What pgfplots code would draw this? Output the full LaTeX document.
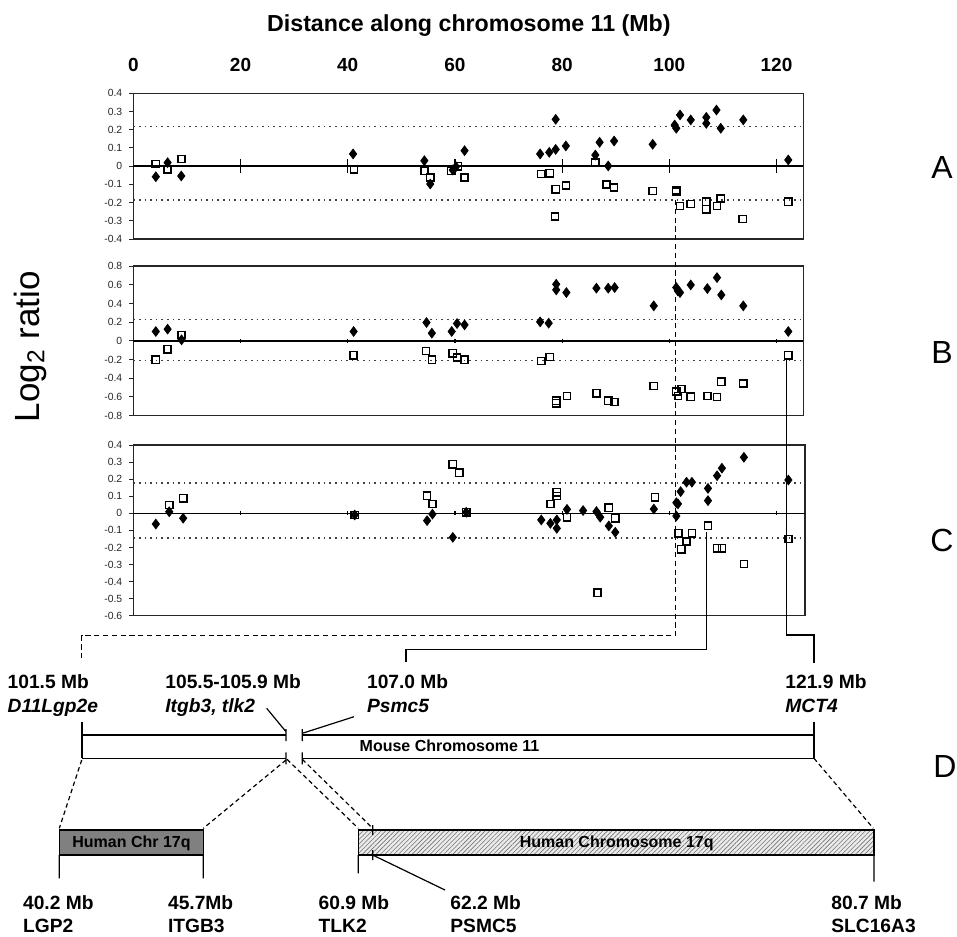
\documentclass[border=0pt]{standalone}
\usepackage{fontspec}
\setmainfont{Liberation Sans}
\usepackage{pgfplots}
\pgfplotsset{compat=1.18}
\usetikzlibrary{patterns.meta}

\pgfplotsset{
  panel/.style={
    scale only axis, width=335pt, xmin=0, xmax=125, anchor=north west,
    axis line style={black!85, line width=0.6pt},
    xtick=\empty, ytick pos=left, ytick align=outside,
    major tick length=2pt, tick style={black!85, line width=0.5pt},
    /pgf/number format/assume math mode=true,
    yticklabel style={font=\fontsize{5.2}{6}\selectfont, black!85,
      /pgf/number format/.cd, fixed, precision=1},
  },
  diam/.style={only marks, mark=diamond*, mark size=2.4pt, black},
  sq/.style={only marks, mark=square, mark size=1.8pt,
    mark options={draw=black, line width=0.75pt}},
  thr/.style={black!75, dotted, line width=0.8pt},
  zero/.style={black, line width=0.7pt},
  tk/.style={ycomb, black, line width=0.6pt, mark=none},
}
\newcommand\lab{\fontsize{9.6}{11}\selectfont\bfseries}
\newcommand\barlab{\fontsize{8}{9}\selectfont\bfseries}

\begin{document}
\begin{tikzpicture}
\useasboundingbox (0,0) rectangle (478.5pt,-468pt);

% ---------- panel A ----------
\begin{axis}[panel, at={(66.65pt,-46.65pt)}, height=72.85pt,
  ymin=-0.4, ymax=0.4, ytick={-0.4,-0.3,-0.2,-0.1,0,0.1,0.2,0.3,0.4},
  xtick={0,20,40,60,80,100,120}, xticklabel pos=upper,
  x tick style={draw=none},
  xticklabel style={font=\fontsize{9.5}{11}\selectfont\bfseries, black,
    anchor=base, yshift=11pt}]
  \addplot[thr] coordinates {(0,0.217) (125,0.217)};
  \addplot[thr] coordinates {(0,-0.186) (125,-0.186)};
  \addplot[zero] coordinates {(0,0) (125,0)};
  \addplot[tk] coordinates {(20,0.04) (40,0.04) (60,0.04) (80,0.04) (100,0.04) (120,0.04)};
  \addplot[tk] coordinates {(20,-0.04) (40,-0.04) (60,-0.04) (80,-0.04) (100,-0.04) (120,-0.04)};
  \addplot[diam] coordinates {
    (4.2,-0.058) (6.4,0.019) (8.95,-0.054) (41.0,0.067) (54.3,0.03)
    (55.4,-0.098) (59.6,-0.021) (60.2,-0.003) (61.8,0.085) (75.9,0.067)
    (77.6,0.076) (78.8,0.092) (78.8,0.257) (80.7,0.111) (86.2,0.061)
    (87.0,0.131) (88.6,0.001) (89.7,0.138) (96.9,0.12) (101.0,0.226)
    (101.3,0.208) (102.0,0.281) (104.0,0.254) (106.9,0.268) (106.9,0.235)
    (108.8,0.308) (109.6,0.208) (113.8,0.254) (122.2,0.034)};
  \addplot[sq] coordinates {
    (4.2,0.012) (6.4,-0.017) (9.0,0.039) (41.2,-0.017) (54.3,-0.027)
    (55.4,-0.063) (59.3,-0.025) (60.6,0.0) (61.8,-0.063) (76.1,-0.043)
    (77.7,-0.039) (78.8,-0.127) (80.7,-0.107) (78.7,-0.277) (86.2,0.019)
    (88.3,-0.1) (89.7,-0.118) (96.9,-0.136) (101.3,-0.131) (101.3,-0.14)
    (102.0,-0.219) (104.0,-0.208) (106.9,-0.195) (106.9,-0.237)
    (108.9,-0.219) (109.6,-0.177) (113.7,-0.29) (122.2,-0.195)};
\end{axis}

% ---------- panel B ----------
\begin{axis}[panel, at={(66.65pt,-133pt)}, height=74.85pt,
  ymin=-0.8, ymax=0.8, ytick={-0.8,-0.6,-0.4,-0.2,0,0.2,0.4,0.6,0.8}]
  \addplot[thr] coordinates {(0,0.23) (125,0.23)};
  \addplot[thr] coordinates {(0,-0.21) (125,-0.21)};
  \addplot[zero] coordinates {(0,0) (125,0)};
  \addplot[tk] coordinates {(20,0.02) (40,0.02) (60,0.02) (80,0.02) (100,0.02) (120,0.02)};
  \addplot[tk] coordinates {(20,-0.02) (40,-0.02) (60,-0.02) (80,-0.02) (100,-0.02) (120,-0.02)};
  \addplot[diam] coordinates {
    (4.2,0.1) (6.4,0.125) (9.0,0.011) (41.1,0.1) (54.7,0.196) (55.7,0.082)
    (59.4,0.1) (60.4,0.185) (61.8,0.171) (75.9,0.203) (77.5,0.189)
    (78.9,0.605) (78.9,0.545) (80.8,0.516) (86.4,0.563) (88.6,0.563)
    (89.8,0.57) (97.1,0.374) (101.3,0.57) (101.6,0.534) (102.0,0.516)
    (104.0,0.598) (107.1,0.559) (108.9,0.676) (109.7,0.491) (113.8,0.374)
    (122.2,0.1)};
  \addplot[sq] coordinates {
    (4.2,-0.203) (6.4,-0.089) (9.0,0.064) (41.1,-0.153) (54.6,-0.107)
    (55.7,-0.203) (59.6,-0.132) (60.4,-0.178) (61.8,-0.203) (76.1,-0.214)
    (77.7,-0.171) (78.9,-0.641) (78.9,-0.666) (80.9,-0.588) (86.4,-0.559)
    (88.6,-0.641) (89.8,-0.652) (97.1,-0.481) (101.3,-0.541) (101.6,-0.588)
    (102.3,-0.516) (104.0,-0.598) (107.1,-0.59) (108.9,-0.6) (109.7,-0.438)
    (113.8,-0.456) (122.2,-0.153)};
\end{axis}

% ---------- panel C ----------
\begin{axis}[panel, at={(66.65pt,-222.5pt)}, height=85.35pt, width=335.85pt,
  xmax=125.3,
  ymin=-0.6, ymax=0.4, ytick={-0.6,-0.5,-0.4,-0.3,-0.2,-0.1,0,0.1,0.2,0.3,0.4}]
  \addplot[thr] coordinates {(0,0.176) (125.3,0.176)};
  \addplot[thr] coordinates {(0,-0.146) (125.3,-0.146)};
  \addplot[zero] coordinates {(0,0) (125.3,0)};
  \addplot[tk] coordinates {(20,0.012) (40,0.012) (60,0.012) (80,0.012) (100,0.012) (120,0.012)};
  \addplot[tk] coordinates {(20,-0.012) (40,-0.012) (60,-0.012) (80,-0.012) (100,-0.012) (120,-0.012)};
  \addplot[diam] coordinates {
    (4.2,-0.063) (6.7,0.009) (9.3,-0.029) (41.3,-0.01) (54.8,-0.043)
    (55.8,-0.005) (59.6,-0.141) (62.1,0.006) (76.1,-0.039) (77.8,-0.059)
    (79.0,-0.039) (79.0,-0.088) (80.9,0.023) (83.9,0.016) (86.4,0.01)
    (87.1,-0.023) (88.7,-0.074) (89.9,-0.111) (97.1,0.025) (101.3,0.062)
    (101.6,0.055) (101.3,-0.016) (102.1,0.127) (103.2,0.182) (104.2,0.182)
    (107.2,0.146) (107.2,0.074) (108.9,0.22) (109.8,0.264) (113.9,0.328)
    (122.2,0.195)};
  \addplot[sq] coordinates {
    (6.7,0.049) (9.3,0.088) (41.3,-0.01) (54.8,0.103) (55.8,0.055)
    (59.6,0.287) (60.8,0.238) (62.1,0.006) (77.8,0.055) (79.0,0.123)
    (79.0,0.101) (80.9,-0.023) (86.6,-0.465) (88.7,0.033) (89.9,-0.029)
    (97.3,0.094) (101.7,-0.117) (104.2,-0.117) (103.2,-0.166) (102.2,-0.211)
    (107.2,-0.073) (108.9,-0.205) (109.8,-0.205) (113.9,-0.297) (122.2,-0.151)};
\end{axis}

% ---------- overlay: titles, connectors and panel D (pixel units) ----------
\begin{axis}[at={(0pt,0pt)}, anchor=north west, scale only axis,
  width=478.5pt, height=468pt, xmin=0, xmax=957, ymin=0, ymax=936,
  y dir=reverse, hide axis, clip=false]
  % connectors from the panels
  \addplot[black, line width=0.6pt, dash pattern=on 2.6pt off 1.8pt] coordinates {
    (675.7,200) (675.7,635.7) (81.7,635.7) (81.7,661.7)};
  \addplot[black, line width=0.6pt] coordinates {
    (706.3,532) (706.3,649.3) (406,649.3) (406,661.7)};
  \addplot[black, line width=0.6pt] coordinates {
    (786.5,360) (786.5,635) (814,635) (814,662.7)};
  % mouse chromosome
  \addplot[black, line width=0.8pt] table {
    x y
    81.7 735
    286 735

    302.3 735
    814 735

    81.7 758.3
    286 758.3

    302.3 758.3
    814 758.3

    81.7 721.7
    81.7 758.3

    814 721.7
    814 758.3
  };
  \addplot[black, line width=0.6pt] table {
    x y
    286 729
    286 741

    302.3 729
    302.3 741

    286 752.3
    286 764.3

    302.3 752.3
    302.3 764.3

    266.7 708.3
    286 731.7

    354 716.7
    302.3 733.3
  };
  \addplot[black, line width=0.6pt, dash pattern=on 2.2pt off 1.6pt] table {
    x y
    81.7 760
    59.3 828.3

    286 760
    203.3 828.3

    287 759.3
    358.3 828.3

    302.3 759.3
    372.7 828.3

    814 758.3
    873.3 828.3
  };
  % human chromosome 17q segments
  \addplot[draw=black, line width=0.8pt, fill=black!50] coordinates {
    (59.3,830) (203.3,830) (203.3,855) (59.3,855) (59.3,830)};
  \addplot[draw=black, line width=0.8pt, fill=black!8,
    postaction={pattern={Lines[angle=45,distance=1.6pt,line width=0.3pt]},
      pattern color=black!55}] coordinates {
    (358.3,830) (874,830) (874,855) (358.3,855) (358.3,830)};
  \addplot[black, line width=0.6pt] table {
    x y
    59.3 855
    59.3 878.3

    203.3 855
    203.3 878.3

    358.3 855
    358.3 873.3

    874 855
    874 881.7

    372.7 825
    372.7 835

    372.7 850
    372.7 860

    372.7 855
    445 890
  };
  % text
  \node[font=\fontsize{11.6}{13}\selectfont\bfseries, anchor=base]
    at (axis cs:468.9,31) {Distance along chromosome 11 (Mb)};
  \node[rotate=90, font=\fontsize{17.5}{20}\selectfont]
    at (axis cs:30,346.7) {Log\textsubscript{2} ratio};
  \node[font=\fontsize{16}{18}\selectfont, inner sep=0pt] at (axis cs:942,167) {A};
  \node[font=\fontsize{16}{18}\selectfont, inner sep=0pt] at (axis cs:942,352) {B};
  \node[font=\fontsize{16}{18}\selectfont, inner sep=0pt] at (axis cs:942,540) {C};
  \node[font=\fontsize{16}{18}\selectfont, inner sep=0pt] at (axis cs:945,766.7) {D};
  \node[font=\lab, anchor=base west, inner sep=0pt] at (axis cs:7.3,688.3) {101.5 Mb};
  \node[font=\lab\itshape, anchor=base west, inner sep=0pt] at (axis cs:7.3,712) {D11Lgp2e};
  \node[font=\lab, anchor=base west, inner sep=0pt] at (axis cs:165,688.3) {105.5-105.9 Mb};
  \node[font=\lab\itshape, anchor=base west, inner sep=0pt] at (axis cs:165,712) {Itgb3, tlk2};
  \node[font=\lab, anchor=base west, inner sep=0pt] at (axis cs:366.7,688.3) {107.0 Mb};
  \node[font=\lab\itshape, anchor=base west, inner sep=0pt] at (axis cs:366.7,712) {Psmc5};
  \node[font=\lab, anchor=base west, inner sep=0pt] at (axis cs:785,688.3) {121.9 Mb};
  \node[font=\lab\itshape, anchor=base west, inner sep=0pt] at (axis cs:785,712) {MCT4};
  \node[font=\barlab, anchor=base] at (axis cs:449.5,751.7) {Mouse Chromosome 11};
  \node[font=\barlab, anchor=base] at (axis cs:131.5,847.5) {Human Chr 17q};
  \node[font=\barlab, anchor=base] at (axis cs:616.7,847.5) {Human Chromosome 17q};
  \node[font=\lab, anchor=base west, inner sep=0pt] at (axis cs:22.7,909.3) {40.2 Mb};
  \node[font=\lab, anchor=base west, inner sep=0pt] at (axis cs:22.7,932.7) {LGP2};
  \node[font=\lab, anchor=base west, inner sep=0pt] at (axis cs:167.7,909.3) {45.7Mb};
  \node[font=\lab, anchor=base west, inner sep=0pt] at (axis cs:167.7,932.7) {ITGB3};
  \node[font=\lab, anchor=base west, inner sep=0pt] at (axis cs:318.3,909.3) {60.9 Mb};
  \node[font=\lab, anchor=base west, inner sep=0pt] at (axis cs:318.3,932.7) {TLK2};
  \node[font=\lab, anchor=base west, inner sep=0pt] at (axis cs:450,909.3) {62.2 Mb};
  \node[font=\lab, anchor=base west, inner sep=0pt] at (axis cs:450,932.7) {PSMC5};
  \node[font=\lab, anchor=base west, inner sep=0pt] at (axis cs:831,909.3) {80.7 Mb};
  \node[font=\lab, anchor=base west, inner sep=0pt] at (axis cs:831,932.7) {SLC16A3};
\end{axis}
\end{tikzpicture}
\end{document}
